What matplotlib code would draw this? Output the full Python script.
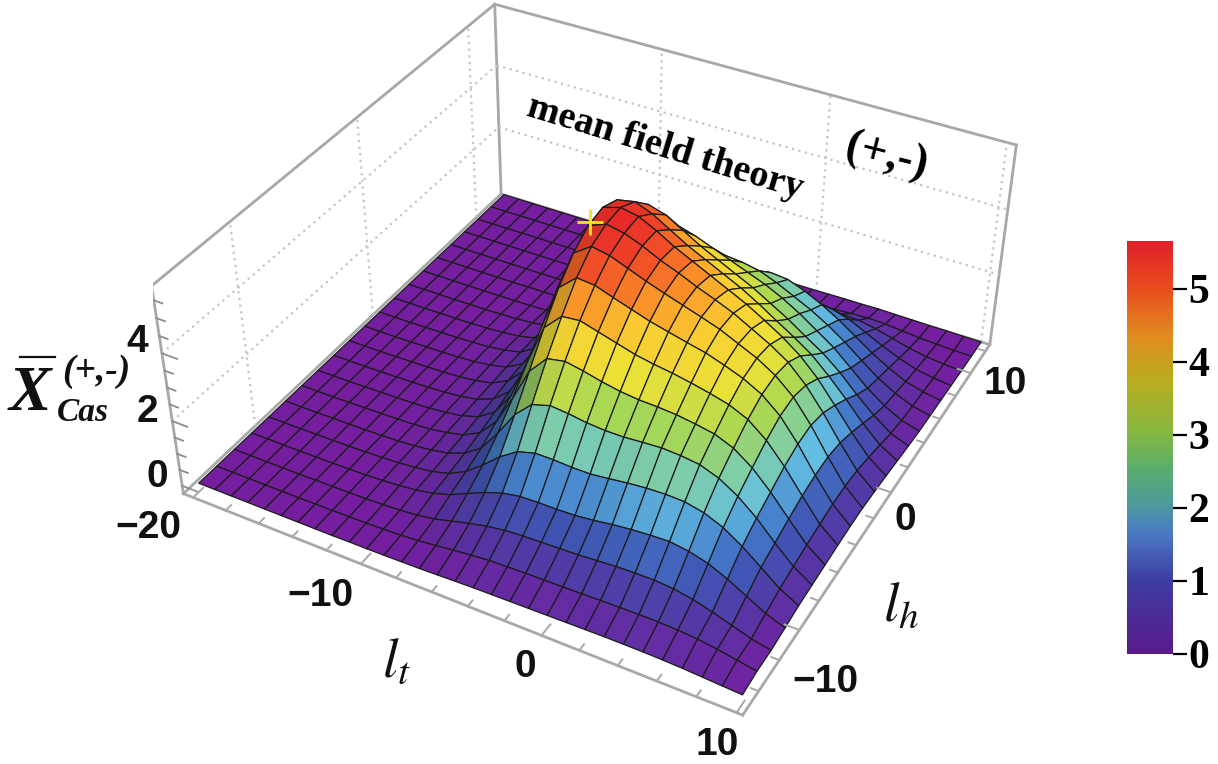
import numpy as np
import matplotlib
matplotlib.use("Agg")
import matplotlib.pyplot as plt
from matplotlib.colors import LinearSegmentedColormap, Normalize
from matplotlib.cm import ScalarMappable

W, H = 1218, 764

# surface grid
lt = list(range(-20, 11))
lh = [-15, -13.65, -12.3, -10.95, -9.6, -8.25, -6.9, -5.55, -4.2, -2.85, -1.5,
      -0.15, 1.2, 2.55, 3.9, 5.25, 6.6, 7.95, 9.3, 10.65, 12]

# heights, one row per lh, one column per lt
z00 = [0,0,0,0,0,0,0,0,0, .01,.01,.02,.03,.04,.06,.08,.1,.11,.12,.13,.14,.15,.16,.17,.17,.17,.16,.14,.11,.08,.05]
z01 = [0,0,0,0,0,0,.01,.01,.02, .03,.05,.07,.11,.17,.24,.3,.35,.37,.39,.4,.41,.42,.44,.45,.46,.46,.44,.4,.32,.22,.12]
z02 = [0,0,0,0,0,.01,.01,.02,.03, .05,.08,.13,.22,.36,.5,.62,.7,.74,.76,.78,.8,.84,.88,.9,.9,.86,.76,.6,.42,.24,.12]
z03 = [0,0,0,0,.01,.01,.02,.03,.06, .1,.16,.26,.42,.66,.9,1.08,1.18,1.2,1.2,1.22,1.28,1.36,1.42,1.46,1.48,1.4,1.25,1.0,.7,.4,.18]
z04 = [0,0,0,.01,.01,.02,.03,.05,.08, .13,.2,.34,.6,1.0,1.45,1.8,1.95,1.95,1.92,1.92,1.98,2.05,2.1,2.12,2.1,1.98,1.75,1.4,.98,.55,.25]
z05 = [0,0,0,.01,.01,.02,.03,.05,.09, .15,.25,.44,.8,1.45,2.2,2.7,2.85,2.8,2.72,2.68,2.68,2.72,2.75,2.72,2.65,2.45,2.12,1.68,1.14,.64,.28]
z06 = [0,0,0,.01,.02,.03,.04,.06,.1, .18,.3,.56,1.1,2.0,3.0,3.55,3.65,3.55,3.42,3.32,3.26,3.24,3.2,3.12,3.02,2.8,2.42,1.9,1.3,.72,.31]
z07 = [0,0,0,.01,.02,.03,.04,.07,.12, .2,.36,.7,1.4,2.6,3.8,4.3,4.35,4.2,4.05,3.9,3.8,3.72,3.62,3.5,3.36,3.12,2.7,2.12,1.44,.78,.34]
z08 = [0,0,0,.01,.02,.03,.05,.08,.13, .22,.42,.84,1.75,3.2,4.5,4.95,4.9,4.72,4.55,4.38,4.25,4.12,4.0,3.82,3.62,3.34,2.9,2.26,1.52,.84,.36]
z09 = [0,0,0,.01,.02,.03,.05,.08,.14, .24,.5,1.0,2.1,3.8,5.05,5.4,5.3,5.1,4.9,4.72,4.55,4.38,4.2,3.96,3.72,3.4,2.95,2.3,1.54,.84,.36]
z10 = [0,0,0,.01,.02,.03,.05,.08,.15, .26,.55,1.15,2.5,4.3,5.4,5.6,5.5,5.3,5.05,4.85,4.62,4.42,4.2,3.92,3.64,3.3,2.8,2.16,1.44,.78,.32]
z11 = [0,0,0,.01,.02,.03,.05,.08,.15, .26,.58,1.25,2.8,4.6,5.5,5.65,5.55,5.3,5.0,4.75,4.5,4.25,4.0,3.7,3.38,3.0,2.5,1.88,1.24,.66,.27]
z12 = [0,0,0,.01,.01,.02,.04,.07,.13, .24,.52,1.15,2.6,4.4,5.3,5.4,5.2,4.9,4.6,4.35,4.1,3.85,3.55,3.22,2.9,2.55,2.08,1.56,1.0,.52,.21]
z13 = [0,0,0,0,.01,.01,.03,.05,.09, .17,.34,.75,1.8,3.4,4.75,4.9,4.75,4.45,4.15,3.9,3.65,3.4,3.1,2.8,2.45,2.12,1.7,1.2,.74,.36,.15]
z14 = [0,0,0,0,0,.01,.01,.02,.04, .08,.14,.28,.62,1.5,3.0,3.9,4.0,3.85,3.65,3.45,3.25,3.05,2.8,2.5,2.15,1.8,1.35,.9,.53,.25,.1]
z15 = [0,0,0,0,0,0,.01,.01,.02, .03,.05,.08,.15,.35,.9,1.85,2.6,2.95,3.0,2.95,2.85,2.65,2.4,2.15,1.85,1.5,1.1,.72,.42,.2,.08]
z16 = [0,0,0,0,0,0,0,.01,.01, .01,.02,.04,.07,.13,.25,.5,.95,1.5,1.95,2.25,2.35,2.3,2.1,1.85,1.55,1.2,.85,.55,.3,.15,.06]
z17 = [0,0,0,0,0,0,0,0,0, .01,.01,.02,.03,.05,.09,.15,.26,.42,.65,.95,1.2,1.35,1.35,1.25,1.1,.85,.6,.38,.2,.1,.04]
z18 = [0,0,0,0,0,0,0,0,0, 0,0,.01,.01,.02,.03,.05,.08,.12,.18,.27,.38,.5,.58,.62,.6,.5,.36,.22,.12,.06,.02]
z19 = [0,0,0,0,0,0,0,0,0, 0,0,0,0,.01,.01,.01,.02,.03,.04,.06,.08,.12,.15,.18,.2,.18,.13,.08,.05,.02,.01]
z20 = [0,0,0,0,0,0,0,0,0, 0,0,0,0,0,0,0,0,0,.01,.01,.01,.02,.03,.03,.04,.03,.02,.01,.01,0,0]

z_rows = [z00, z01, z02, z03, z04, z05, z06, z07, z08, z09, z10, z11, z12, z13,
          z14, z15, z16, z17, z18, z19, z20]

lt_ticks = [-20, -10, 0, 10]
lh_ticks = [-10, 0, 10]
z_ticks = [0, 2, 4]
bar_ticks = [0, 1, 2, 3, 4, 5]
z_max = 5.65

xl = (-20.6, 10.3)
yl = (-15.5, 12.6)
zl = (-0.25, 5.9)

surf_cmap = LinearSegmentedColormap.from_list("surf", [
    (0 / 5.7, (118/255, 30/255, 160/255)), (.5 / 5.7, (85/255, 55/255, 165/255)),
    (1 / 5.7, (65/255, 85/255, 180/255)), (1.5 / 5.7, (70/255, 130/255, 205/255)),
    (1.9 / 5.7, (100/255, 190/255, 225/255)), (2.4 / 5.7, (125/255, 205/255, 170/255)),
    (3 / 5.7, (165/255, 215/255, 85/255)), (3.6 / 5.7, (235/255, 225/255, 55/255)),
    (4.2 / 5.7, (250/255, 205/255, 50/255)), (4.7 / 5.7, (250/255, 140/255, 40/255)),
    (5.2 / 5.7, (240/255, 70/255, 40/255)), (1, (230/255, 35/255, 40/255))])
bar_cmap = LinearSegmentedColormap.from_list("bar", [
    (0, "#5a1a8c"), (.18, "#3c3ea0"), (.29, "#4a78c4"), (.36, "#4c9a9c"), (.45, "#58ae6c"),
    (.54, "#86b83e"), (.66, "#b8ac20"), (.77, "#e08c20"), (.88, "#e8501e"), (1, "#e0202a")])

fig = plt.figure(figsize=(W / 100, H / 100), dpi=100)
S = 877.5
ax = fig.add_axes([153.4 / W, -4.2 / H, S / W, S / H], projection="3d")
ax.computed_zorder = False
ax.set_proj_type("persp", focal_length=0.4592)
ax.view_init(elev=36.69, azim=-61.31, roll=0)
ax.set_box_aspect((1.0723, 1.0702, 0.4431))
ax.set_axis_off()

LT, LH = np.meshgrid(lt, lh)
Z = np.array(z_rows, float)
cell = (Z[:-1, :-1] + Z[1:, :-1] + Z[:-1, 1:] + Z[1:, 1:]) / 4
slope = (Z[:-1, 1:] + Z[1:, 1:] - Z[:-1, :-1] - Z[1:, :-1]) / 2
face = surf_cmap(np.clip(cell / 5.7, 0, 1))
face[..., :3] *= (1 - 0.55 * np.clip(slope / 1.5, 0, 1))[..., None]

# box behind the surface
box = "#a8a8a8"
x0, x1 = xl
y0, y1 = yl
z0, z1 = zl
for p, q in [((x0, y0, z0), (x0, y1, z0)), ((x0, y1, z0), (x1, y1, z0)),
             ((x0, y0, z1), (x0, y1, z1)), ((x0, y1, z1), (x1, y1, z1)),
             ((x0, y0, z0), (x0, y0, z1)), ((x0, y1, z0), (x0, y1, z1)),
             ((x1, y1, z0), (x1, y1, z1))]:
    ax.plot(*zip(p, q), color=box, lw=2.0, zorder=1)

# dotted grid on the two back walls
grid = dict(color="#c4c4c4", lw=1.6, ls=(0, (1, 2)), zorder=1)
for t in lt_ticks[1:-1] + [lt_ticks[-1] - 0.2]:
    ax.plot([t, t], [y1, y1], zl, **grid)
for t in lh_ticks:
    ax.plot([x0, x0], [t, t], zl, **grid)
for t in z_ticks[1:]:
    ax.plot(xl, [y1, y1], [t, t], **grid)
    ax.plot([x0, x0], yl, [t, t], **grid)

ax.plot_surface(LT, LH, Z, rstride=1, cstride=1, facecolors=face, shade=False,
                edgecolor="#1c1c1c", linewidth=0.9, antialiased=True, zorder=2)

# front edges and ticks
for p, q in [((x0, y0, z0), (x1, y0, z0)), ((x1, y0, z0), (x1, y1, z0))]:
    ax.plot(*zip(p, q), color=box, lw=2.0, zorder=3)
for t in range(-20, 11, 2):
    d = 0.75 if t in lt_ticks else 0.4
    ax.plot([t, t], [y0, y0 + d], [z0, z0], color=box, lw=1.4, zorder=3)
for t in range(-14, 13, 2):
    d = 0.75 if t in lh_ticks else 0.4
    ax.plot([x1, x1 - d], [t, t], [z0, z0], color=box, lw=1.4, zorder=3)
for t in np.arange(0, 5.9, 0.5):
    d = 0.9 if t in z_ticks else 0.5
    ax.plot([x0, x0 + d], [y0, y0], [t, t], color="#8c8c8c", lw=1.3, zorder=3)

ax.set_xlim(*xl, view_margin=0)
ax.set_ylim(*yl, view_margin=0)
ax.set_zlim(*zl, view_margin=0)

# colour bar
cax = fig.add_axes([1127 / W, 1 - 654 / H, 46 / W, 413 / H])
sm = ScalarMappable(norm=Normalize(0, z_max), cmap=bar_cmap)
cb = fig.colorbar(sm, cax=cax, ticks=bar_ticks)
cb.outline.set_visible(False)
cb.ax.tick_params(length=10, width=1.6, pad=1, labelsize=30)
for lab in cb.ax.get_yticklabels():
    lab.set_family("Liberation Serif")
    lab.set_weight("bold")

# text placed in pixels over everything
ov = fig.add_axes([0, 0, 1, 1], facecolor="none")
ov.set_xlim(0, W)
ov.set_ylim(H, 0)
ov.axis("off")

tick_font = dict(family="Liberation Sans", weight="bold", size=28, ha="center", va="center", color="#111111")
for x, y, s in [(148, 528, "\u221220"), (320, 596, "\u221210"), (525, 667, "0"), (717, 745, "10"),
                (825, 682, "\u221210"), (905, 520, "0"), (1005, 384, "10"),
                (157, 477, "0"), (147, 412, "2"), (137, 342, "4")]:
    ov.text(x, y, s, **tick_font)

serif = dict(family="Liberation Serif", weight="bold", color="black", ha="center", va="center")
ov.text(665, 148, "mean field theory", rotation=-16.9, rotation_mode="anchor", size=27.5, **serif)
ov.text(886, 157, "(+,-)", rotation=-14, rotation_mode="anchor", size=33, **serif)

plt.rcParams["mathtext.fontset"] = "stix"
ov.text(396, 662, r"$l_t$", size=40, ha="center", va="center", color="#111111")
ov.text(901, 606, r"$l_h$", size=40, ha="center", va="center", color="#111111")

it = dict(family="Liberation Serif", weight="bold", style="italic", color="#111111", ha="left", va="baseline")
ov.text(9, 410, "X", size=46, **it)
ov.plot([20, 55], [357, 357], color="#111111", lw=1.6)
ov.text(62, 381, "(+,-)", size=27, **it)
ov.text(57, 421, "Cas", size=24, **it)

ov.plot([590], [222], marker="+", ms=19, mew=2.0, color="#f0e428", ls="none")

fig.savefig("out.png", dpi=100)
